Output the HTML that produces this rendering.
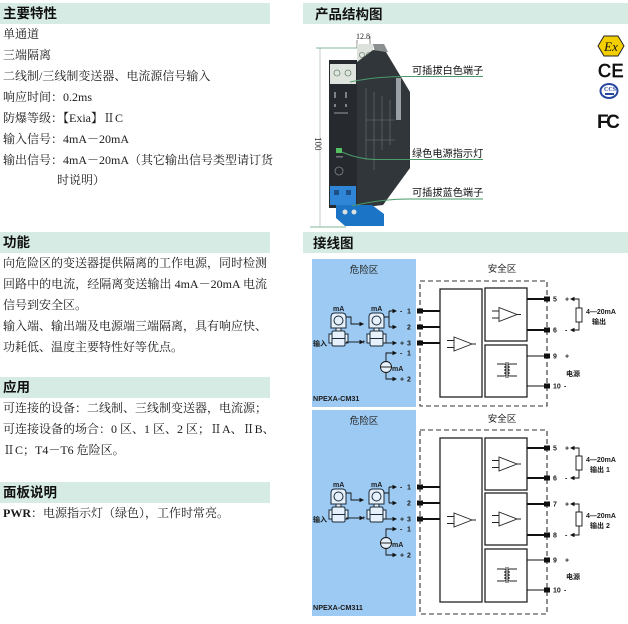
<!DOCTYPE html>
<html><head><meta charset="utf-8">
<style>
html,body{margin:0;padding:0;background:#fff;}
body{width:628px;height:624px;position:relative;overflow:hidden;}
.h{position:absolute;left:0;width:270px;height:21px;background:#d6ebe3;font:bold 13.5px "Liberation Sans","Noto Sans CJK SC",sans-serif;line-height:21px;padding-left:3px;box-sizing:border-box;color:#111;}
.t{position:absolute;left:3px;font:12px/16px "Liberation Serif","Noto Serif CJK SC",serif;color:#1a1a1a;white-space:nowrap;}
.j{width:264px;text-align:justify;text-align-last:justify;}
</style></head><body>

<div class="h" style="top:3px">主要特性</div>
<div class="t" style="top:26px">单通道</div>
<div class="t" style="top:47px">三端隔离</div>
<div class="t" style="top:68px">二线制/三线制变送器、电流源信号输入</div>
<div class="t" style="top:89px">响应时间：0.2ms</div>
<div class="t" style="top:110px">防爆等级：【Exia】ⅡC</div>
<div class="t" style="top:131px">输入信号：4mA－20mA</div>
<div class="t j" style="top:152px">输出信号：4mA－20mA（其它输出信号类型请订货</div>
<div class="t" style="top:172px;left:57px">时说明）</div>

<div class="h" style="top:232px">功能</div>
<div class="t j" style="top:255px">向危险区的变送器提供隔离的工作电源，同时检测</div>
<div class="t j" style="top:276px">回路中的电流，经隔离变送输出 4mA－20mA 电流</div>
<div class="t" style="top:297px">信号到安全区。</div>
<div class="t j" style="top:318px">输入端、输出端及电源端三端隔离，具有响应快、</div>
<div class="t" style="top:339px">功耗低、温度主要特性好等优点。</div>

<div class="h" style="top:377px">应用</div>
<div class="t" style="top:400px">可连接的设备：二线制、三线制变送器，电流源；</div>
<div class="t j" style="top:421px">可连接设备的场合：0 区、1 区、2 区；ⅡA、ⅡB、</div>
<div class="t" style="top:442px">ⅡC；T4－T6 危险区。</div>

<div class="h" style="top:482px">面板说明</div>
<div class="t" style="top:505px"><b>PWR</b>：电源指示灯（绿色），工作时常亮。</div>

<svg width="628" height="624" style="position:absolute;left:0;top:0" xmlns="http://www.w3.org/2000/svg">
<defs>
 <g id="tx" fill="#e6f1fb" stroke="#1b2a3a" stroke-width="1">
  <rect x="-1" y="21" width="3" height="9"/>
  <rect x="15" y="21" width="3" height="9"/>
  <rect x="2" y="18" width="13" height="15" rx="1.5"/>
  <line x1="2" y1="25.5" x2="15" y2="25.5"/>
  <rect x="6" y="15" width="5" height="3"/>
  <path d="M1,15 V4 Q1,0 5,0 H12 Q16,0 16,4 V15 Z"/>
  <circle cx="8.5" cy="7.5" r="4.5"/>
 </g>
 <g id="tf" fill="none" stroke="#222" stroke-width="0.9">
  <path d="M-10,-6 H-3 M3,-6 H10 M-10,6 H-3 M3,6 H10"/>
  <path d="M-3,-6 a2,1.5 0 0 1 0,3 a2,1.5 0 0 1 0,3 a2,1.5 0 0 1 0,3 a2,1.5 0 0 1 0,3"/>
  <path d="M3,-6 a2,1.5 0 0 0 0,3 a2,1.5 0 0 0 0,3 a2,1.5 0 0 0 0,3 a2,1.5 0 0 0 0,3"/>
  <path d="M-1,-8 V8 M1,-8 V8"/>
 </g>
 <g id="amp" fill="none" stroke="#222" stroke-width="0.9">
  <polygon points="0,-7 0,7 18,0"/>
  <path d="M-7,-3.5 H0 M-7,3.5 H0 M18,0 H22"/>
 </g>
 <path id="ar" d="M-4.5,-2.3 L0,0 L-4.5,2.3 Z" fill="#111"/>
 <path id="al" d="M4.5,-2.3 L0,0 L4.5,2.3 Z" fill="#111"/>
</defs>

<!-- right headers -->
<rect x="303" y="3" width="325" height="21" fill="#d6ebe3"/>
<text x="315" y="19" font-family="Liberation Sans,Noto Sans CJK SC,sans-serif" font-weight="bold" font-size="13.5" fill="#111">产品结构图</text>
<rect x="303" y="232" width="325" height="21" fill="#d6ebe3"/>
<text x="313" y="248" font-family="Liberation Sans,Noto Sans CJK SC,sans-serif" font-weight="bold" font-size="13.5" fill="#111">接线图</text>

<!-- product drawing -->
<g>
 <line x1="320" y1="48" x2="320" y2="227" stroke="#a9b8b0" stroke-width="0.7"/>
 <line x1="316" y1="48" x2="357" y2="48" stroke="#5aa07a" stroke-width="0.8"/>
 <line x1="310" y1="227" x2="346" y2="227" stroke="#5aa07a" stroke-width="0.8"/>
 <text transform="translate(315,137) rotate(90)" font-family="Liberation Serif,serif" font-size="9" fill="#222">100</text>
 <text x="356" y="39" font-family="Liberation Serif,serif" font-size="8" fill="#222">12.8</text>
 <line x1="357" y1="40" x2="357" y2="48" stroke="#444" stroke-width="0.6"/>
 <line x1="370" y1="36" x2="370" y2="48" stroke="#444" stroke-width="0.6"/>
 <!-- back terminal -->
 <rect x="357" y="44" width="16" height="22" fill="#dde2dd"/>
 <circle cx="362" cy="55" r="2.6" fill="none" stroke="#7a8a7a" stroke-width="0.8"/>
 <circle cx="369" cy="55" r="2.6" fill="none" stroke="#7a8a7a" stroke-width="0.8"/>
 <polygon points="373,44 384,44 388,52 375,53" fill="#8c8f90"/>
 <!-- side -->
 <polygon points="357,62 373,50 386,52 410,92 410,168 383,205 357,208" fill="#31363b"/>
 <rect x="396" y="78" width="5" height="42" fill="#9aa2a8"/>
 <g stroke="#6e757b" stroke-width="0.6">
  <line x1="366" y1="88" x2="366" y2="160"/><line x1="374" y1="92" x2="374" y2="170"/>
  <line x1="382" y1="96" x2="382" y2="150"/><line x1="390" y1="100" x2="390" y2="145"/>
  <line x1="366" y1="120" x2="395" y2="120"/><line x1="366" y1="140" x2="395" y2="140"/>
 </g>
 <!-- front -->
 <rect x="329" y="60" width="28" height="148" fill="#26292d"/>
 <rect x="330" y="64" width="26" height="20" fill="#dfe4df"/>
 <circle cx="337" cy="73" r="3" fill="none" stroke="#6a8a6a" stroke-width="0.8"/>
 <circle cx="348" cy="73" r="3" fill="none" stroke="#6a8a6a" stroke-width="0.8"/>
 <g fill="#7c8288"><rect x="334" y="92" width="2" height="6"/><rect x="345" y="92" width="2" height="6"/><rect x="334" y="104" width="2" height="3"/><rect x="345" y="104" width="2" height="3"/></g>
 <rect x="334" y="112" width="14" height="2" fill="#5d6368"/>
 <rect x="336" y="148" width="6" height="5" fill="#55c060"/>
 <rect x="336" y="156" width="7" height="1.5" fill="#6d7378"/>
 <circle cx="339" cy="171" r="4" fill="none" stroke="#80878c" stroke-width="0.8"/>
 <rect x="330" y="186" width="26" height="19" fill="#2f86d6"/>
 <rect x="334" y="190" width="5" height="5" fill="#1c4f85"/><rect x="346" y="190" width="5" height="5" fill="#1c4f85"/>
 <polygon points="336,205 372,205 384,214 384,226 345,226 336,218" fill="#1c74c6"/>
 <circle cx="345" cy="212" r="2.5" fill="#d8e0e0"/><circle cx="354" cy="212" r="2.5" fill="#d8e0e0"/>
 <!-- leaders -->
 <g fill="none" stroke="#4a9a6a" stroke-width="1">
  <path d="M350,82 Q378,76 410,76.5 L483,76.5"/>
  <path d="M342,152 Q360,160 380,159.5 L483,159.5"/>
  <path d="M352,206 Q380,199 410,199 L483,199"/>
 </g>
 <g font-family="Liberation Sans,Noto Sans CJK SC,sans-serif" font-size="10.2" fill="#111">
  <text x="412" y="74">可插拔白色端子</text>
  <text x="412" y="157">绿色电源指示灯</text>
  <text x="412" y="196">可插拔蓝色端子</text>
 </g>
</g>

<!-- certification icons -->
<polygon points="598,46 604,36 618,36 624,46 618,56 604,56" fill="#f4cf00" stroke="#222" stroke-width="1"/>
<text x="611" y="51" text-anchor="middle" font-family="Liberation Serif,serif" font-style="italic" font-size="13" fill="#111">Ex</text>
<text x="598" y="77" font-family="Liberation Sans,sans-serif" font-size="18" fill="#111" stroke="#111" stroke-width="0.7" letter-spacing="0.5">CE</text>
<ellipse cx="609" cy="91" rx="8.5" ry="7" fill="#fff" stroke="#2848a0" stroke-width="2"/>
<text x="610" y="91" text-anchor="middle" font-family="Liberation Serif,serif" font-weight="bold" font-size="6" fill="#2848a0">CCS</text>
<rect x="605" y="93" width="9" height="2" fill="#2848a0"/>
<text x="597" y="128" font-family="Liberation Sans,sans-serif" font-weight="bold" font-size="19" fill="#111" letter-spacing="-2.5">FC</text>

<!-- ===== Diagram 1 ===== -->
<rect x="312" y="259" width="104" height="148" fill="#9dcaf2"/>
<g font-family="Liberation Sans,Noto Sans CJK SC,sans-serif" fill="#222">
 <text x="364" y="273" text-anchor="middle" font-size="9.5">危险区</text>
 <text x="502" y="272" text-anchor="middle" font-size="9.5">安全区</text>
</g>
<rect x="420" y="281" width="127" height="125" fill="none" stroke="#333" stroke-width="1.1" stroke-dasharray="5,3"/>
<rect x="440" y="289" width="42" height="108" fill="none" stroke="#222" stroke-width="1.3"/>
<rect x="485" y="288" width="42" height="53" fill="none" stroke="#222" stroke-width="1.3"/>
<rect x="485" y="345" width="42" height="52" fill="none" stroke="#222" stroke-width="1.3"/>
<use href="#amp" x="454" y="344"/>
<use href="#amp" x="499" y="314.5"/>
<use href="#tf" x="507" y="370"/>
<use href="#tx" x="330" y="313"/>
<use href="#tx" x="368" y="313"/>
<g stroke="#111" stroke-width="0.9" fill="none">
 <path d="M346,317 H351 V324 H360"/>
 <path d="M346,342 H360"/>
 <path d="M384,317 H389 M389,311 V327 M389,311 H393 M389,327 H393"/>
 <path d="M384,343 H393"/>
 <circle cx="386" cy="367" r="5.5" fill="#e6f1fb"/>
 <path d="M380.5,367 H391.5"/>
 <path d="M386,361.5 V353 H393 M386,372.5 V379 H393"/>
 <path d="M527,356 H544 M527,386 H544"/>
 <path d="M574,299 H579 V308 M579,322 V330 H574"/>
</g>
<g stroke="#111" stroke-width="2">
 <path d="M423,311 H440 M423,327 H440 M423,343 H440 M527,299 H544 M527,330 H544"/>
</g>
<rect x="576" y="308" width="6" height="14" fill="#fff" stroke="#111" stroke-width="0.9"/>
<use href="#ar" x="364" y="324"/><use href="#ar" x="364" y="342"/>
<use href="#ar" x="397" y="311"/><use href="#ar" x="397" y="327"/><use href="#ar" x="397" y="343"/>
<use href="#ar" x="397" y="353"/><use href="#ar" x="397" y="379"/>
<use href="#al" x="570" y="299"/><use href="#al" x="570" y="330"/>
<g fill="#111">
 <rect x="417" y="308.5" width="6" height="5"/><rect x="417" y="324.5" width="6" height="5"/><rect x="417" y="340.5" width="6" height="5"/>
 <rect x="544" y="296.5" width="6" height="5"/><rect x="544" y="327.5" width="6" height="5"/><rect x="544" y="353.5" width="6" height="5"/><rect x="544" y="383.5" width="6" height="5"/>
</g>
<g font-family="Liberation Sans,Noto Sans CJK SC,sans-serif" font-size="7" font-weight="bold" fill="#1a1a1a">
 <text x="333" y="311">mA</text><text x="371" y="311">mA</text>
 <text x="313" y="346">输入</text>
 <text x="392" y="371">mA</text>
 <text x="400" y="313.5">-</text><text x="407" y="313.5">1</text>
 <text x="407" y="329.5">2</text>
 <text x="400" y="345.5">+</text><text x="407" y="345.5">3</text>
 <text x="400" y="355.5">-</text><text x="407" y="355.5">1</text>
 <text x="400" y="381.5">+</text><text x="407" y="381.5">2</text>
 <text x="362" y="326" font-size="6">-</text><text x="362" y="344" font-size="6">+</text>
 <text x="553" y="301.5">5</text><text x="565" y="301.5">+</text>
 <text x="553" y="332.5">6</text><text x="565" y="332.5">-</text>
 <text x="553" y="358.5">9</text><text x="565" y="358.5">+</text>
 <text x="553" y="388.5">10</text><text x="564" y="388.5">-</text>
 <text x="586" y="314">4—20mA</text>
 <text x="592" y="324">输出</text>
 <text x="566" y="376">电源</text>
 <text x="313" y="401" font-size="7.2">NPEXA-CM31</text>
</g>

<!-- ===== Diagram 2 ===== -->
<rect x="312" y="410" width="104" height="206" fill="#9dcaf2"/>
<g font-family="Liberation Sans,Noto Sans CJK SC,sans-serif" fill="#222">
 <text x="364" y="424" text-anchor="middle" font-size="9.5">危险区</text>
 <text x="502" y="422" text-anchor="middle" font-size="9.5">安全区</text>
</g>
<rect x="420" y="430" width="127" height="184" fill="none" stroke="#333" stroke-width="1.1" stroke-dasharray="5,3"/>
<rect x="440" y="438" width="42" height="164" fill="none" stroke="#222" stroke-width="1.3"/>
<rect x="485" y="438" width="42" height="52" fill="none" stroke="#222" stroke-width="1.3"/>
<rect x="485" y="493" width="42" height="52" fill="none" stroke="#222" stroke-width="1.3"/>
<rect x="485" y="549" width="42" height="53" fill="none" stroke="#222" stroke-width="1.3"/>
<use href="#amp" x="454" y="520"/>
<use href="#amp" x="499" y="464"/>
<use href="#amp" x="499" y="519"/>
<use href="#tf" x="507" y="575"/>
<use href="#tx" x="330" y="489"/>
<use href="#tx" x="368" y="489"/>
<g stroke="#111" stroke-width="0.9" fill="none">
 <path d="M346,493 H351 V500 H360"/>
 <path d="M346,518 H360"/>
 <path d="M384,493 H389 M389,487 V503 M389,487 H393 M389,503 H393"/>
 <path d="M384,519 H393"/>
 <circle cx="386" cy="543" r="5.5" fill="#e6f1fb"/>
 <path d="M380.5,543 H391.5"/>
 <path d="M386,537.5 V529 H393 M386,548.5 V555 H393"/>
 <path d="M527,560 H544 M527,590 H544"/>
 <path d="M574,448 H579 V456 M579,470 V478 H574"/>
 <path d="M574,504 H579 V512 M579,526 V535 H574"/>
</g>
<g stroke="#111" stroke-width="2">
 <path d="M423,487 H440 M423,503 H440 M423,519 H440 M527,448 H544 M527,478 H544 M527,504 H544 M527,535 H544"/>
</g>
<rect x="576" y="456" width="6" height="14" fill="#fff" stroke="#111" stroke-width="0.9"/>
<rect x="576" y="512" width="6" height="14" fill="#fff" stroke="#111" stroke-width="0.9"/>
<use href="#ar" x="364" y="500"/><use href="#ar" x="364" y="518"/>
<use href="#ar" x="397" y="487"/><use href="#ar" x="397" y="503"/><use href="#ar" x="397" y="519"/>
<use href="#ar" x="397" y="529"/><use href="#ar" x="397" y="555"/>
<use href="#al" x="570" y="448"/><use href="#al" x="570" y="478"/>
<use href="#al" x="570" y="504"/><use href="#al" x="570" y="535"/>
<g fill="#111">
 <rect x="417" y="484.5" width="6" height="5"/><rect x="417" y="500.5" width="6" height="5"/><rect x="417" y="516.5" width="6" height="5"/>
 <rect x="544" y="445.5" width="6" height="5"/><rect x="544" y="475.5" width="6" height="5"/><rect x="544" y="501.5" width="6" height="5"/><rect x="544" y="532.5" width="6" height="5"/><rect x="544" y="557.5" width="6" height="5"/><rect x="544" y="587.5" width="6" height="5"/>
</g>
<g font-family="Liberation Sans,Noto Sans CJK SC,sans-serif" font-size="7" font-weight="bold" fill="#1a1a1a">
 <text x="333" y="487">mA</text><text x="371" y="487">mA</text>
 <text x="313" y="522">输入</text>
 <text x="392" y="547">mA</text>
 <text x="400" y="489.5">-</text><text x="407" y="489.5">1</text>
 <text x="407" y="505.5">2</text>
 <text x="400" y="521.5">+</text><text x="407" y="521.5">3</text>
 <text x="400" y="531.5">-</text><text x="407" y="531.5">1</text>
 <text x="400" y="557.5">+</text><text x="407" y="557.5">2</text>
 <text x="362" y="502" font-size="6">-</text><text x="362" y="520" font-size="6">+</text>
 <text x="553" y="450.5">5</text><text x="565" y="450.5">+</text>
 <text x="553" y="480.5">6</text><text x="565" y="480.5">-</text>
 <text x="553" y="506.5">7</text><text x="565" y="506.5">+</text>
 <text x="553" y="537.5">8</text><text x="565" y="537.5">-</text>
 <text x="553" y="562.5">9</text><text x="565" y="562.5">+</text>
 <text x="553" y="592.5">10</text><text x="564" y="592.5">-</text>
 <text x="586" y="462">4—20mA</text>
 <text x="590" y="472">输出 1</text>
 <text x="586" y="518">4—20mA</text>
 <text x="590" y="528">输出 2</text>
 <text x="566" y="579">电源</text>
 <text x="313" y="610" font-size="7.2">NPEXA-CM311</text>
</g>
</svg>
</body></html>
